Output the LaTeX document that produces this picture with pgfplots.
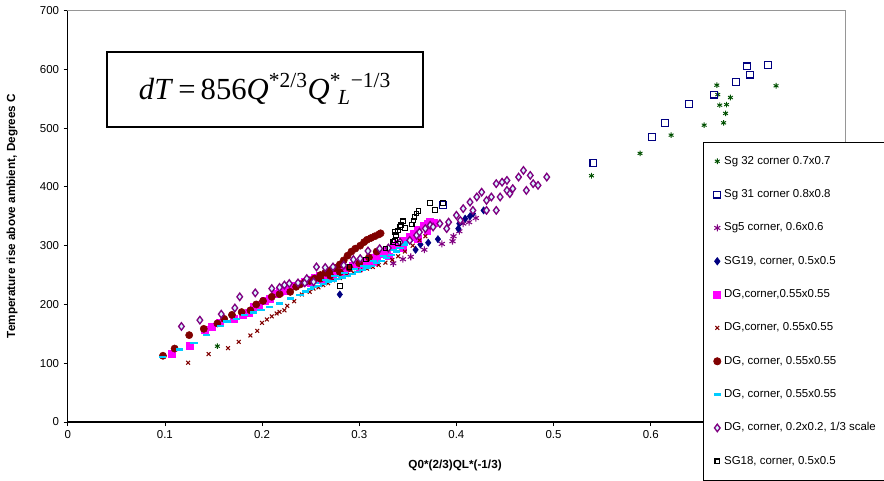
\documentclass[border=0pt]{standalone}
\usepackage{pgfplots}
\pgfplotsset{compat=1.18}
\usepackage{fontspec}
\setmainfont{Liberation Sans}
\newfontfamily\tnr{Liberation Serif}
\definecolor{sgGreen}{RGB}{0,80,0}
\definecolor{sgNavy}{RGB}{0,0,128}
\definecolor{sgPurple}{RGB}{128,0,128}
\definecolor{sgMag}{RGB}{255,0,255}
\definecolor{sgDR}{RGB}{128,0,0}
\definecolor{sgCyan}{RGB}{0,204,255}
\definecolor{sgLC}{RGB}{215,250,255}
\definecolor{sgGray}{RGB}{150,150,150}
\begin{document}
\begin{tikzpicture}
\begin{axis}[
  scale only axis, width=583pt, height=308.6pt,
  at={(0pt,0pt)}, anchor=south west,
  xmin=0, xmax=0.8, ymin=0, ymax=700,
  xtick={0,0.1,0.2,0.3,0.4,0.5,0.6,0.7,0.8},
  xticklabels={0,0.1,0.2,0.3,0.4,0.5,0.6,{},{}},
  ytick={0,100,200,300,400,500,600,700},
  tick label style={font=\fontsize{8.6}{10}\selectfont},
  /pgf/number format/assume math mode=true,
  tick pos=left, tick align=outside, major tick length=3pt,
  tick style={black, line width=0.6pt},
  axis line style={sgGray, line width=0.8pt},
  clip=false,
  legend style={at={(rel axis cs:0.817,0.680)}, anchor=north west,
    draw=black, line width=0.6pt, fill=white,
    font=\fontsize{8.6}{10}\selectfont,
    inner xsep=7.7pt, inner ysep=10pt, row sep=17pt,
    nodes={inner sep=0pt, text height=6.2pt, text depth=1.8pt}},
  legend cell align=left,
  legend image code/.code={\path[draw=none] (0pt,0pt) -- (8pt,0pt);
    \draw[#1] plot[only marks] coordinates {(2.85pt,0pt)};},
]
\draw[black, line width=0.8pt] (rel axis cs:0,1) -- (rel axis cs:0,0) -- (rel axis cs:1,0);

% Sg 32 corner 0.7x0.7
\addplot[only marks, mark=asterisk, mark size=2.1pt, sgGreen, mark options={line width=0.7pt}] coordinates {
(0.154,129) (0.539,419) (0.589,457) (0.621,488) (0.655,505) (0.675,509) (0.677,525)
(0.671,539) (0.678,540) (0.682,552) (0.669,557) (0.668,573) (0.729,572)
};
\addlegendentry{Sg 32 corner 0.7x0.7}

% Sg 31 corner 0.8x0.8
\addplot[only marks, mark=square, mark size=2.6pt, sgNavy, mark options={fill=white, line width=0.9pt}] coordinates {
(0.386,369) (0.541,440.5) (0.601,485) (0.615,509) (0.639,541) (0.665,557)
(0.688,578) (0.699,605) (0.702,591) (0.721,607)
};
\addlegendentry{Sg 31 corner 0.8x0.8}

% Sg5 corner, 0.6x0.6
\addplot[only marks, mark=asterisk, mark size=2.6pt, sgPurple, mark options={line width=0.8pt}] coordinates {
(0.335,270) (0.345,277) (0.353,281) (0.367,293) (0.385,303) (0.396,307.5) (0.397,316)
(0.403,324.5) (0.407,337.6) (0.413,340) (0.420,347)
};
\addlegendentry{Sg5 corner, 0.6x0.6}

% SG19, corner, 0.5x0.5
\addplot[only marks, mark=diamond*, mark size=2.7pt, sgNavy] coordinates {
(0.280,217) (0.358,293) (0.363,302) (0.371,305) (0.381,311) (0.402,329) (0.403,337.6)
(0.409,346) (0.414,350) (0.417,354.5) (0.428,360)
};
\addlegendentry{SG19, corner, 0.5x0.5}

% DG,corner,0.55x0.55 (magenta squares)
\addplot[only marks, mark=square*, mark size=2.6pt, sgMag] coordinates {
(0.107,115.5) (0.126,130) (0.141,157.5) (0.148,162) (0.156,168.7) (0.171,176) (0.180,182)
(0.186,186) (0.191,196) (0.197,200) (0.203,206) (0.208,210) (0.213,218.6) (0.218,221)
(0.223,224) (0.228,228) (0.233,231) (0.239,236) (0.244,238) (0.249,242) (0.254,245)
(0.259,248) (0.264,249) (0.268,251) (0.273,252.6) (0.278,256) (0.283,259) (0.288,263)
(0.293,266) (0.298,269) (0.303,272) (0.308,275) (0.313,279) (0.318,283) (0.323,287)
(0.328,292) (0.335,298) (0.340,304) (0.345,309) (0.352,315) (0.356,321) (0.360,327)
(0.366,334.7) (0.370,338) (0.373,340) (0.377,339)
(0.250,236) (0.260,242) (0.270,246) (0.285,254) (0.300,262) (0.315,272) (0.330,282)
(0.345,297) (0.360,312) (0.370,325)
};
\addlegendentry{DG,corner,0.55x0.55}

% DG,corner, 0.55x0.55 (dark red x)
\addplot[only marks, mark=x, mark size=2pt, sgDR, mark options={line width=0.8pt}] coordinates {
(0.124,100.8) (0.145,115.5) (0.165,125.7) (0.176,136.4) (0.188,147.3) (0.195,155)
(0.200,168.7) (0.205,174.5) (0.210,179.6) (0.215,184.7) (0.218,187.4) (0.223,190)
(0.226,197.6) (0.233,205.6) (0.241,217) (0.249,221.4) (0.253,227) (0.258,229) (0.263,233)
(0.268,236) (0.273,241) (0.280,245) (0.287,250) (0.294,254) (0.301,258) (0.308,261)
(0.314,263.8) (0.320,267) (0.327,271) (0.334,276) (0.340,282) (0.347,290) (0.355,300)
(0.362,309) (0.368,316)
};
\addlegendentry{DG,corner, 0.55x0.55}

% DG, corner, 0.55x0.55 (dark red circles)
\addplot[only marks, mark=*, mark size=2.7pt, sgDR] coordinates {
(0.098,112.7) (0.110,125) (0.125,147.8) (0.140,158.5) (0.154,167.7) (0.161,175.5)
(0.169,182.3) (0.179,187) (0.188,190) (0.194,200) (0.201,206) (0.210,213) (0.218,217.5)
(0.229,221.4) (0.235,230) (0.239,234) (0.244,238) (0.249,240) (0.254,244) (0.260,250)
(0.265,254) (0.270,258) (0.275,262) (0.280,268) (0.284,275) (0.288,283) (0.292,290)
(0.296,295) (0.301,300) (0.305,306) (0.308,310) (0.312,313) (0.316,316) (0.320,319)
(0.322,321) (0.260,244) (0.270,249) (0.280,255) (0.290,262) (0.300,270) (0.310,280)
(0.318,290)
};
\addlegendentry{DG, corner, 0.55x0.55}

% DG, corner, 0.55x0.55 (cyan dashes)
\addplot[only marks, mark=-, mark size=2.7pt, sgCyan, mark options={line width=1.7pt}] coordinates {
(0.0974,111) (0.115,123.5) (0.130,134.7) (0.143,147.8) (0.157,163.6) (0.164,171)
(0.174,175) (0.182,181.8) (0.191,186.4) (0.199,190) (0.208,196) (0.218,201.7) (0.229,210)
(0.239,215.7) (0.245,222) (0.250,226) (0.253,230) (0.258,232) (0.263,235) (0.268,238)
(0.273,240) (0.278,243) (0.283,246) (0.288,249) (0.293,252) (0.298,255) (0.303,258)
(0.308,262) (0.313,266) (0.318,270) (0.323,274) (0.328,279) (0.333,284) (0.338,290)
(0.342,296) (0.346,302) (0.350,306) (0.352,309)
(0.255,236) (0.265,242) (0.275,248) (0.285,254) (0.295,260) (0.305,266) (0.315,274)
(0.325,282) (0.335,292)
};
\addlegendentry{DG, corner, 0.55x0.55}

% DG, corner, 0.2x0.2, 1/3 scale (purple open diamonds)
\addplot[only marks, mark=diamond*, mark size=2.8pt, sgPurple, mark options={fill=sgLC, line width=1pt}] coordinates {
(0.117,162.6) (0.136,173.3) (0.158,183.5) (0.172,194) (0.177,213) (0.193,219.7) (0.210,227)
(0.218,229) (0.223,233) (0.228,235.6) (0.237,236.7) (0.244,236.7) (0.253,238.4)
(0.246,244) (0.256,263.8) (0.265,262.8) (0.273,263.8) (0.284,266.7) (0.294,276.4)
(0.301,278) (0.309,291) (0.321,295) (0.330,296) (0.342,306) (0.352,309) (0.359,317.7)
(0.362,323) (0.368,329) (0.373,334.7) (0.376,331.8) (0.383,337.6) (0.390,329) (0.392,340)
(0.400,351.7) (0.404,343) (0.407,363) (0.414,374) (0.417,360) (0.421,382.8) (0.426,391)
(0.431,377) (0.431,360) (0.436,382.8) (0.441,405.5) (0.441,360) (0.445,382.8)
(0.447,408) (0.452,394) (0.452,411) (0.455,388.5) (0.458,397) (0.464,416.7) (0.469,428)
(0.472,394) (0.476,419.6) (0.479,405.5) (0.484,402.6) (0.493,416.7)
};
\addlegendentry{DG, corner, 0.2x0.2, 1/3 scale}

% SG18, corner, 0.5x0.5
\addplot[only marks, mark=square, mark size=1.7pt, black, mark options={fill=white, line width=0.8pt}] coordinates {
(0.280,231) (0.290,263.8) (0.307,276.4) (0.327,295) (0.335,306) (0.337,309) (0.340,303.6)
(0.338,317.7) (0.337,323) (0.340,326) (0.342,331.8) (0.343,334.7) (0.345,341.5)
(0.347,330) (0.354,336) (0.356,343) (0.357,348.8) (0.359,354.5) (0.361,359) (0.378,361)
(0.373,372.6) (0.386,372.6)
};
\addlegendentry{SG18, corner, 0.5x0.5}

\node[draw=black, line width=1.3pt, fill=white, minimum width=237pt, minimum height=56pt, inner sep=0pt]
  at (axis cs:0.203,566)
  {\tnr\fontsize{23}{26}\selectfont\textit{dT}\,=\,856\textit{Q}\textsuperscript{*2/3}\textit{Q}\textsuperscript{*}\kern-0.1em\textsubscript{\textit{L}}\textsuperscript{−1/3}};
\end{axis}
\node[rotate=90, font=\fontsize{8.8}{10}\selectfont\bfseries] at (-41.8pt,154.5pt) {Temperature rise above ambient, Degrees C};
\node[font=\fontsize{8.8}{10}\selectfont\bfseries] at (290.5pt,-32.25pt) {Q0*(2/3)QL*(-1/3)};
\pgfresetboundingbox
\path[use as bounding box] (-50.8pt,-43.5pt) rectangle (612.2pt,316.5pt);
\end{tikzpicture}
\end{document}
